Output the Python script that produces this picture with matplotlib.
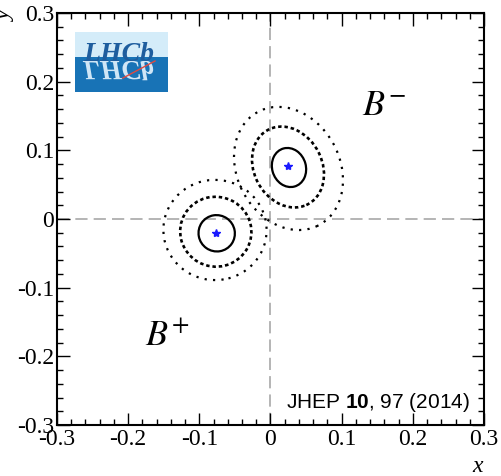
import matplotlib
matplotlib.use("Agg")
import matplotlib.pyplot as plt
from matplotlib.patches import Ellipse, Rectangle, PathPatch
from matplotlib.textpath import TextPath
from matplotlib.font_manager import FontProperties
from matplotlib.transforms import Affine2D

plt.rcParams['mathtext.fontset'] = 'custom'
plt.rcParams['mathtext.rm'] = 'Liberation Sans'
plt.rcParams['mathtext.bf'] = 'Liberation Sans:bold'

# best fit (x, y) for each charge
bm_best = (0.025, 0.077)
bp_best = (-0.077, -0.021)

# 1, 2, 3 sigma likelihood contours: centre, width, height, tilt (deg)
bm_cx = [0.026, 0.0246, 0.0253]
bm_cy = [0.075, 0.0757, 0.0736]
bm_w = [0.0475, 0.096, 0.145]
bm_h = [0.0575, 0.122, 0.186]
bm_ang = [15, 25, 25]

bp_cx = [-0.0756, -0.0769, -0.078]
bp_cy = [-0.0208, -0.0185, -0.016]
bp_w = [0.051, 0.100, 0.145]
bp_h = [0.053, 0.102, 0.146]
bp_ang = [10, 15, 15]

ticks = [-0.3, -0.2, -0.1, 0.0, 0.1, 0.2, 0.3]
tick_labels = ['-0.3', '-0.2', '-0.1', '0', '0.1', '0.2', '0.3']

level_ls = ['-', (0, (1.3, 1.1)), (0, (1.0, 2.8))]
level_lw = [1.6, 1.9, 1.6]

serif = 'Liberation Serif'

fig = plt.figure(figsize=(5.02, 4.76), dpi=100)
ax = fig.add_axes([57 / 502, 1 - 425 / 476, 427 / 502, 412 / 476])
ax.set_xlim(-0.3, 0.3)
ax.set_ylim(-0.3, 0.3)

ax.axvline(0, color='#a0a0a0', lw=1.1, dashes=(8, 4), zorder=1)
ax.axhline(0, color='#a0a0a0', lw=1.1, dashes=(8, 4), zorder=1)

for cx, cy, w, h, a in [(bm_cx, bm_cy, bm_w, bm_h, bm_ang),
                        (bp_cx, bp_cy, bp_w, bp_h, bp_ang)]:
    for i in range(3):
        ax.add_patch(Ellipse((cx[i], cy[i]), w[i], h[i], angle=a[i],
                             fill=False, edgecolor='black',
                             linestyle=level_ls[i], lw=level_lw[i], zorder=3))

ax.plot([bm_best[0], bp_best[0]], [bm_best[1], bp_best[1]], ls='none',
        marker='*', ms=6, color='#1a1aff', zorder=4)

ax.text(0.1286, 0.1515, r'$B^{-}$', fontsize=26, math_fontfamily='stix',
        ha='left', va='baseline')
ax.text(-0.1764, -0.1835, r'$B^{+}$', fontsize=26, math_fontfamily='stix',
        ha='left', va='baseline')
ax.text(0.2803, -0.2752, r'JHEP $\mathbf{10}$, 97 (2014)', fontsize=15,
        family='Liberation Sans', ha='right', va='baseline')

ax.set_xticks(ticks)
ax.set_xticklabels(tick_labels)
ax.set_yticks(ticks)
ax.set_yticklabels(tick_labels)
ax.set_xticks([t / 100 for t in range(-30, 31, 2)], minor=True)
ax.set_yticks([t / 100 for t in range(-30, 31, 2)], minor=True)
ax.tick_params(which='both', direction='in', top=True, right=True,
               labelsize=17, width=1.0)
ax.tick_params(which='major', length=9)
ax.tick_params(which='minor', length=4.5)
ax.tick_params(axis='x', pad=3)
ax.tick_params(axis='y', pad=2)
for lab in ax.get_xticklabels() + ax.get_yticklabels():
    lab.set_family(serif)
for sp in ax.spines.values():
    sp.set_linewidth(1.5)

fig.text(478 / 502, 1 - 466 / 476, 'x', family=serif, style='italic',
         fontsize=17, ha='center', va='center')
fig.text(5 / 502, 1 - 16 / 476, 'y', family=serif, style='italic',
         fontsize=17, rotation=90, ha='center', va='center')

# experiment logo, drawn in pixel units
logo = fig.add_axes([75 / 502, 1 - 92 / 476, 93 / 502, 60 / 476])
logo.set_xlim(0, 93)
logo.set_ylim(0, 60)
logo.axis('off')
logo.add_patch(Rectangle((0, 0), 93, 35, color='#1873b6', lw=0))
logo.add_patch(Rectangle((0, 35), 93, 25, color='#d4ecf9', lw=0))
fp = FontProperties(family=serif, style='italic', weight='bold')
mirror = TextPath((0, 0), 'LHCb', size=20 * 100 / 72, prop=fp)
mirror = Affine2D().scale(1, -1).translate(8, 31).transform_path(mirror)
logo.add_patch(PathPatch(mirror, facecolor='#cfe6f6', edgecolor='none'))
logo.text(8, 31, 'LHCb', fontsize=20, family=serif, style='italic',
          weight='bold', color='#1e5d9e', ha='left', va='baseline')
logo.plot([48, 80], [14, 31], color='#e04a40', lw=1.0)

fig.savefig('out.png', dpi=100)
